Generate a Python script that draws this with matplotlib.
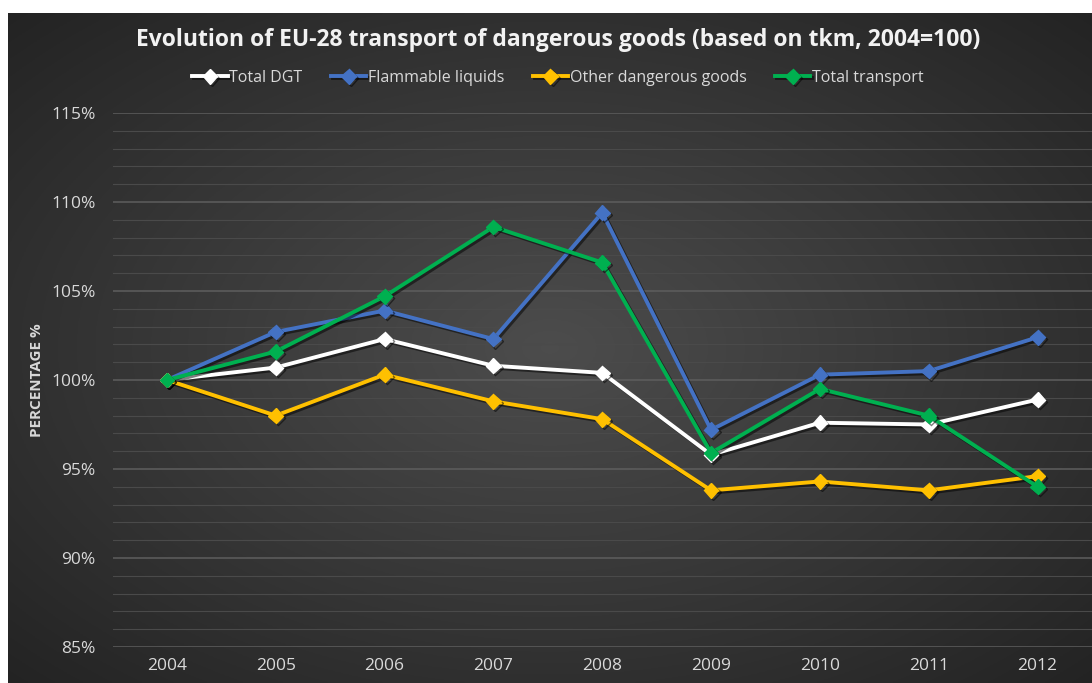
import numpy as np
import matplotlib.pyplot as plt
import matplotlib.patheffects as pe
from matplotlib.ticker import MultipleLocator, FuncFormatter

years = ["2004", "2005", "2006", "2007", "2008", "2009", "2010", "2011", "2012"]
total_dgt = [100.0, 100.7, 102.3, 100.8, 100.4, 95.8, 97.6, 97.5, 98.9]
flammable = [100.0, 102.7, 103.9, 102.3, 109.4, 97.2, 100.3, 100.5, 102.4]
other_dg = [100.0, 98.0, 100.3, 98.8, 97.8, 93.8, 94.3, 93.8, 94.6]
total_transport = [100.0, 101.6, 104.7, 108.6, 106.6, 95.9, 99.5, 98.0, 94.0]

series = [
    ("Total DGT", total_dgt, "#ffffff"),
    ("Flammable liquids", flammable, "#4472c4"),
    ("Other dangerous goods", other_dg, "#ffc000"),
    ("Total transport", total_transport, "#00b050"),
]

W, H = 1092, 683
fig = plt.figure(figsize=(W / 100, H / 100), dpi=100, facecolor="white")

# dark radial gradient background
bg = fig.add_axes([8 / W, 0, 1 - 8 / W, 1 - 13 / H], zorder=-10)
yy, xx = np.mgrid[0:1:300j, 0:1:480j]
r = np.sqrt(((xx - 0.5) / 0.7) ** 2 + ((yy - 0.5) / 0.7) ** 2)
shade = np.clip(0.30 - 0.16 * r, 0.13, 0.30)
bg.imshow(np.dstack([shade] * 3), aspect="auto", extent=[0, 1, 0, 1])
bg.axis("off")

ax = fig.add_axes([112.5 / W, 36 / H, 979.5 / W, 534 / H])
ax.set_facecolor("none")
x = np.arange(len(years))
shadow = [pe.SimpleLineShadow(offset=(1.5, -1.5), shadow_color="black", alpha=0.5), pe.Normal()]
for name, vals, col in series:
    ax.plot(x, vals, color=col, lw=2.8, marker="D", markersize=7.5, label=name,
            path_effects=shadow, zorder=3)

ax.set_xlim(-0.5, len(years) - 0.5)
ax.set_ylim(85, 115)
ax.set_xticks(x)
ax.set_xticklabels(years)
ax.yaxis.set_major_locator(MultipleLocator(5))
ax.yaxis.set_minor_locator(MultipleLocator(1))
ax.yaxis.set_major_formatter(FuncFormatter(lambda v, p: f"{v:.0f}%"))
ax.grid(axis="y", which="major", color="#5e5e5e", lw=1.1, zorder=0)
ax.grid(axis="y", which="minor", color="#4a4a4a", lw=0.8, zorder=0)
for s in ax.spines.values():
    s.set_visible(False)
ax.tick_params(axis="both", which="both", length=0, colors="#d9d9d9", labelsize=12.5)
ax.tick_params(axis="y", pad=12)
ax.tick_params(axis="x", pad=8)
for lbl in ax.get_xticklabels() + ax.get_yticklabels():
    lbl.set_fontfamily("Open Sans")

fig.text(37 / W, 1 - 380 / H, "PERCENTAGE %", rotation=90, ha="center", va="center",
         color="#d9d9d9", fontsize=11, fontweight="bold", family="Open Sans")
fig.text(558 / W, 1 - 40 / H, "Evolution of EU-28 transport of dangerous goods (based on tkm, 2004=100)",
         ha="center", va="center", color="#f2f2f2", fontsize=16.5, fontweight="bold", family="Open Sans")

leg = fig.legend(loc="center", bbox_to_anchor=(558 / W, 1 - 78 / H), ncol=4, frameon=False,
                 handlelength=2.2, handletextpad=0.1, columnspacing=1.8,
                 prop={"family": "Open Sans", "size": 11.5})
for t in leg.get_texts():
    t.set_color("#d9d9d9")

fig.savefig("out.png", dpi=100)
